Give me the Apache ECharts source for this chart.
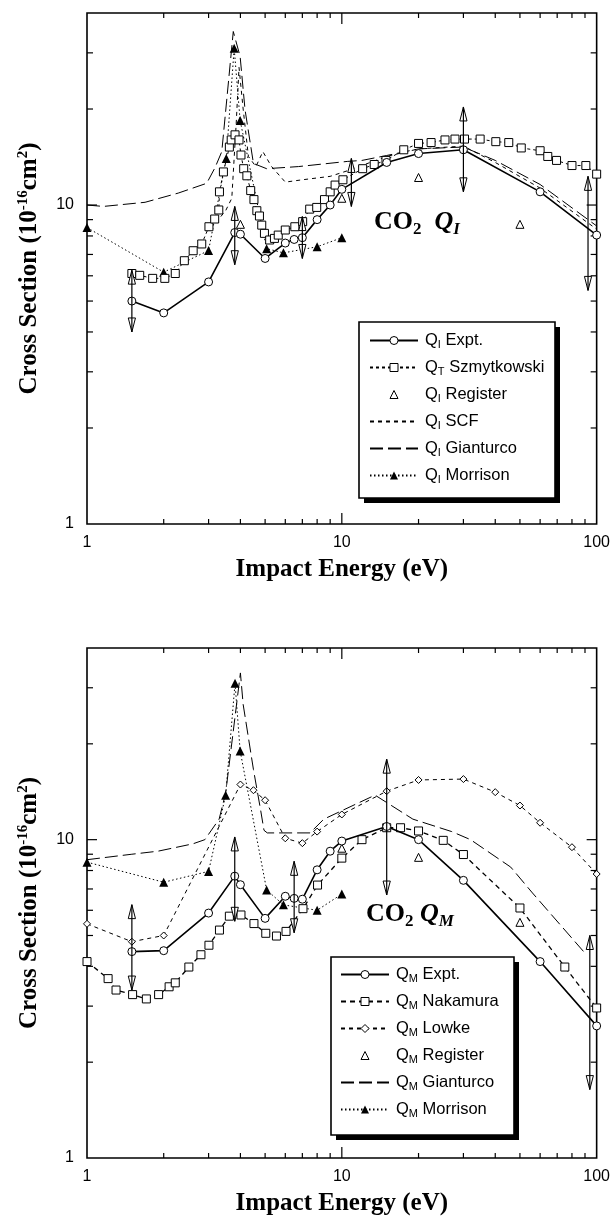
<!DOCTYPE html>
<html><head><meta charset="utf-8">
<script src="https://cdn.jsdelivr.net/npm/echarts@6/dist/echarts.min.js"></script>
<style>html,body{margin:0;padding:0;background:#fff}#c{width:613px;height:1217px}</style>
</head><body><div id="c"></div>
<script>
// ---------- data: top chart (Q_I) ----------
const qiExpt = [[1.5,5.0],[2,4.59],[3,5.74],[3.8,8.2],[4,8.1],[5,6.8],[6,7.6],[6.5,7.8],[7,7.9],[8,9.0],[9,10.0],[10,11.2],[15,13.6],[20,14.5],[30,14.9],[60,11.0],[100,8.05]];
const qtSzmytkowski = [[1.5,6.1],[1.61,6.02],[1.81,5.89],[2.02,5.89],[2.22,6.1],[2.41,6.69],[2.61,7.19],[2.82,7.55],[3.01,8.55],[3.17,9.04],[3.29,9.65],[3.31,11.0],[3.43,12.7],[3.62,15.2],[3.68,16.0],[3.81,16.6],[3.95,16.0],[4.02,14.35],[4.12,13.0],[4.24,12.35],[4.39,11.1],[4.52,10.4],[4.64,9.6],[4.75,9.24],[4.85,8.65],[4.97,8.15],[5.21,7.77],[5.44,7.86],[5.63,8.05],[6.0,8.35],[6.54,8.55],[7.02,8.87],[7.48,9.71],[7.97,9.83],[8.55,10.4],[9.0,11.0],[9.41,11.55],[10.1,12.0],[12.07,13.0],[13.4,13.4],[14.9,13.8],[17.5,14.9],[20,15.6],[22.4,15.7],[25.4,16.0],[27.8,16.1],[30.3,16.1],[34.9,16.1],[40.2,15.8],[45.2,15.7],[50.6,15.1],[60,14.8],[64.3,14.2],[69.6,13.8],[80,13.3],[90.7,13.3],[100,12.5]];
const qiRegister = [[4,8.7],[10,10.5],[20,12.2],[50,8.7]];
const qiSCF = [[3.2,8.8],[3.5,9.6],[3.7,10.5],[3.85,18],[3.95,27],[4.1,20],[4.3,14.2],[4.6,13.2],[4.9,14.7],[5.3,13.2],[6.0,11.8],[7.0,12.0],[9.0,12.3],[10.5,12.8],[15,14.2],[20,15.0],[30,15.3],[40,13.6],[60,11.3],[100,8.4]];
const qiGianturco = [[1,10],[1.16,9.9],[1.69,10.2],[2.28,10.9],[2.95,11.7],[3.18,13.1],[3.38,14.7],[3.75,35],[3.99,29.2],[4.17,19.9],[4.5,13.5],[5.07,13.0],[6.76,13.2],[10.5,13.7],[12,13.8],[15,14.3],[20,15.0],[30,15.2],[40,13.8],[60,11.6],[100,8.6]];
const qiMorrison = [[1,8.5],[2,6.16],[3,7.2],[3.52,14.0],[3.78,31],[3.99,18.4],[5.07,7.3],[5.9,7.08],[8,7.4],[10,7.9]];
const qiArrows = [[1.5,4.0,6.25],[3.8,6.5,9.9],[7.0,6.8,9.2],[10.9,9.9,14.0],[30,11.0,20.3],[92.5,5.4,12.3]];

// ---------- data: bottom chart (Q_M) ----------
const qmExpt = [[1.5,4.45],[2,4.48],[3,5.88],[3.8,7.68],[4,7.22],[5,5.66],[6,6.64],[6.5,6.54],[7,6.5],[8,8.04],[9,9.2],[10,9.9],[15,11.0],[20,10.0],[30,7.45],[60,4.14],[100,2.6]];
const qmNakamura = [[1,4.14],[1.21,3.66],[1.3,3.37],[1.51,3.26],[1.71,3.16],[1.91,3.26],[2.1,3.45],[2.22,3.55],[2.51,3.98],[2.8,4.35],[3.01,4.66],[3.31,5.2],[3.62,5.75],[4.02,5.8],[4.52,5.45],[5.03,5.08],[5.54,4.98],[6.04,5.15],[7.04,6.07],[8.03,7.2],[10,8.75],[12,10.0],[15,10.9],[17,10.9],[20,10.65],[25,9.95],[30,8.98],[50,6.1],[75,3.98],[100,2.96]];
const qmLowke = [[1,5.44],[1.5,4.78],[2,5.0],[4,14.9],[4.5,14.3],[5,13.3],[6,10.1],[7,9.75],[8,10.6],[10,12.0],[15,14.2],[20,15.4],[30,15.5],[40,14.1],[50,12.8],[60,11.3],[80,9.47],[100,7.8]];
const qmRegister = [[10,9.4],[20,8.8],[50,5.5]];
const qmGianturco = [[1,8.65],[1.5,9.0],[1.9,9.2],[2.6,9.7],[2.9,10.0],[3.3,11.6],[3.5,14.0],[4.0,33.4],[4.1,26.6],[4.5,16.6],[4.8,12.4],[4.95,10.7],[5.1,10.5],[7.5,10.5],[8.5,11.6],[13.5,13.8],[19,11.6],[27,10.6],[32,10.0],[46,8.2],[56,6.8],[90,4.4]];
const qmMorrison = [[1,8.5],[2,7.35],[3,7.95],[3.5,13.8],[3.81,31],[3.99,19],[5.07,6.95],[5.9,6.24],[8,6.0],[10,6.75]];
const qmArrows = [[1.5,3.37,6.25],[3.8,5.54,10.2],[6.5,5.1,8.55],[15,6.7,17.9],[94,1.64,5.0]];

// ---------- axis ticks ----------
const xMinorTicks = [2,3,4,5,6,7,8,9,20,30,40,50,60,70,80,90];
const xMajorTicks = [10];
const yMinorTicks = [2,3,4,5,6,7,8,9,20,30];
const yMajorTicks = [10];
const xLabels = [1,10,100];
const yLabels = [1,10];

const SERIF = '"Liberation Serif","Times New Roman",serif';
const SANS = '"Liberation Sans",Arial,Helvetica,sans-serif';

function isLabel(v, list){ return list.some(t => Math.abs(Math.log10(v) - Math.log10(t)) < 1e-6); }

function xTickRender(len){
  return function(params, api){
    const cs = params.coordSys; const px = api.coord([api.value(0), api.value(1)])[0];
    const st = {stroke:'#000', lineWidth:1.2};
    return {type:'group', children:[
      {type:'line', shape:{x1:px,y1:cs.y+cs.height,x2:px,y2:cs.y+cs.height-len}, style:st},
      {type:'line', shape:{x1:px,y1:cs.y,x2:px,y2:cs.y+len}, style:st}]};
  };
}
function yTickRender(len){
  return function(params, api){
    const cs = params.coordSys; const py = api.coord([api.value(0), api.value(1)])[1];
    const st = {stroke:'#000', lineWidth:1.2};
    return {type:'group', children:[
      {type:'line', shape:{x1:cs.x,y1:py,x2:cs.x+len,y2:py}, style:st},
      {type:'line', shape:{x1:cs.x+cs.width,y1:py,x2:cs.x+cs.width-len,y2:py}, style:st}]};
  };
}
function arrowRender(params, api){
  const x = api.value(0), lo = api.value(1), hi = api.value(2);
  const a = api.coord([x, lo]), b = api.coord([x, hi]);
  const w = 3.6, h = 14;
  const hs = {fill:'#fff', stroke:'#000', lineWidth:1};
  return {type:'group', children:[
    {type:'polygon', shape:{points:[[b[0],b[1]],[b[0]-w,b[1]+h],[b[0]+w,b[1]+h]]}, style:hs},
    {type:'polygon', shape:{points:[[a[0],a[1]],[a[0]-w,a[1]-h],[a[0]+w,a[1]-h]]}, style:hs},
    {type:'line', shape:{x1:a[0],y1:a[1],x2:b[0],y2:b[1]}, style:{stroke:'#000', lineWidth:1.2}}]};
}

function frameSeries(i){
  return [
    {type:'custom', xAxisIndex:i, yAxisIndex:i, silent:true, renderItem:xTickRender(5), data:xMinorTicks.map(v=>[v,1]), z:1},
    {type:'custom', xAxisIndex:i, yAxisIndex:i, silent:true, renderItem:xTickRender(11), data:xMajorTicks.map(v=>[v,1]), z:1},
    {type:'custom', xAxisIndex:i, yAxisIndex:i, silent:true, renderItem:yTickRender(6), data:yMinorTicks.map(v=>[1,v]), z:1},
    {type:'custom', xAxisIndex:i, yAxisIndex:i, silent:true, renderItem:yTickRender(10), data:yMajorTicks.map(v=>[1,v]), z:1}
  ];
}

const open = {color:'#fff', borderColor:'#000', borderWidth:1};
function line(name, i, data, o){
  return Object.assign({type:'line', name, xAxisIndex:i, yAxisIndex:i, data, showAllSymbol:true,
    symbol:'none', symbolSize:8, itemStyle:{color:'#000'}, lineStyle:{color:'#000', width:1}, z:3}, o);
}

const series = [
  ...frameSeries(0), ...frameSeries(1),
  line('QI Gianturco', 0, qiGianturco, {lineStyle:{color:'#000', width:1, type:[13,5]}}),
  line('QI SCF', 0, qiSCF, {lineStyle:{color:'#000', width:1, type:[4,4]}}),
  line('QI Morrison', 0, qiMorrison, {symbol:'triangle', symbolSize:9, itemStyle:{color:'#000'}, lineStyle:{color:'#000', width:1, type:[1.5,2.5]}}),
  line('QT Szmytkowski', 0, qtSzmytkowski, {symbol:'rect', symbolSize:8, itemStyle:open, lineStyle:{color:'#000', width:1, type:[3,3]}, z:4}),
  line('QI Register', 0, qiRegister, {symbol:'triangle', symbolSize:8, itemStyle:open, lineStyle:{width:0}}),
  line('QI Expt.', 0, qiExpt, {symbol:'circle', symbolSize:8, itemStyle:open, lineStyle:{color:'#000', width:1.6}, z:5}),
  {type:'custom', name:'arrowsI', xAxisIndex:0, yAxisIndex:0, silent:true, renderItem:arrowRender, encode:{x:0, y:[1,2]}, data:qiArrows, z:6},

  line('QM Gianturco', 1, qmGianturco, {lineStyle:{color:'#000', width:1, type:[13,5]}}),
  line('QM Morrison', 1, qmMorrison, {symbol:'triangle', symbolSize:9, itemStyle:{color:'#000'}, lineStyle:{color:'#000', width:1, type:[1.5,2.5]}}),
  line('QM Lowke', 1, qmLowke, {symbol:'diamond', symbolSize:7, itemStyle:open, lineStyle:{color:'#000', width:1, type:[4,4]}}),
  line('QM Nakamura', 1, qmNakamura, {symbol:'rect', symbolSize:8, itemStyle:open, lineStyle:{color:'#000', width:1.3, type:[5,4]}, z:4}),
  line('QM Register', 1, qmRegister, {symbol:'triangle', symbolSize:8, itemStyle:open, lineStyle:{width:0}}),
  line('QM Expt.', 1, qmExpt, {symbol:'circle', symbolSize:8, itemStyle:open, lineStyle:{color:'#000', width:1.6}, z:5}),
  {type:'custom', name:'arrowsM', xAxisIndex:1, yAxisIndex:1, silent:true, renderItem:arrowRender, encode:{x:0, y:[1,2]}, data:qmArrows, z:6}
];

function xAxis(i){
  return {type:'log', logBase:10, gridIndex:i, min:1, max:100,
    axisLine:{show:false}, axisTick:{show:false}, splitLine:{show:false}, minorTick:{show:false},
    axisLabel:{margin:11, fontFamily:SANS, fontSize:16, color:'#000', formatter:v=>isLabel(v,xLabels)?String(Math.round(v)):''},
    name:'Impact Energy (eV)', nameLocation:'middle', nameGap:33,
    nameTextStyle:{fontFamily:SERIF, fontWeight:'bold', fontSize:25, color:'#000'}};
}
function yAxis(i){
  return {type:'log', logBase:10, gridIndex:i, min:1, max:40,
    axisLine:{show:false}, axisTick:{show:false}, splitLine:{show:false}, minorTick:{show:false},
    axisLabel:{margin:13, fontFamily:SANS, fontSize:16, color:'#000', showMaxLabel:false, formatter:v=>isLabel(v,yLabels)?String(Math.round(v)):''},
    name:'{a|Cross Section (10}{sup|-16}{a|cm}{sup|2}{a|)}', nameLocation:'middle', nameGap:43,
    nameTextStyle:{fontFamily:SERIF, fontWeight:'bold', fontSize:25, color:'#000',
      rich:{a:{fontFamily:SERIF, fontWeight:'bold', fontSize:25, lineHeight:28, color:'#000'},
            sup:{fontFamily:SERIF, fontWeight:'bold', fontSize:15, lineHeight:15, padding:[0,0,13,0], color:'#000'}}}};
}

const legendRich = {
  q:{fontFamily:SANS, fontSize:16.5, lineHeight:20, padding:[0,0,0,2], color:'#000'},
  s:{fontFamily:SANS, fontSize:11, lineHeight:12, padding:[8,0,0,0], color:'#000'},
  t:{fontFamily:SANS, fontSize:16.5, lineHeight:20, color:'#000'}
};
function legendFmt(name){ return '{q|Q}{s|' + name.charAt(1) + '}{t|' + name.slice(2) + '}'; }
function legend(left, top, names){
  return {orient:'vertical', left, top, itemWidth:48, itemHeight:10, itemGap:8, padding:0, z:12,
    selectedMode:false, itemStyle:{borderWidth:1},
    formatter:legendFmt, textStyle:{fontFamily:SANS, fontSize:16.5, color:'#000', rich:legendRich},
    data:names};
}
// legend frame boxes (pixel layout), solid offset shadow
function legendBox(x, y, w, h){
  return [
    {type:'rect', z:10, shape:{x:x+5, y:y+5, width:w, height:h}, style:{fill:'#000'}},
    {type:'rect', z:11, shape:{x:x, y:y, width:w, height:h}, style:{fill:'#fff', stroke:'#000', lineWidth:1.6}}
  ];
}

const titleRich = {
  a:{fontFamily:SERIF, fontWeight:'bold', fontSize:26, lineHeight:30, color:'#000'},
  s:{fontFamily:SERIF, fontWeight:'bold', fontSize:17, lineHeight:14, padding:[16,0,0,0], color:'#000'},
  q:{fontFamily:SERIF, fontWeight:'bold', fontStyle:'italic', fontSize:26, lineHeight:30, color:'#000'},
  qs:{fontFamily:SERIF, fontWeight:'bold', fontStyle:'italic', fontSize:17, lineHeight:14, padding:[16,0,0,0], color:'#000'}
};

const option = {
  animation:false,
  backgroundColor:'#fff',
  title:[
    {text:'{a|CO}{s|2}{a|  }{q|Q}{qs|I}', left:374, top:207, padding:0, textStyle:{rich:titleRich}},
    {text:'{a|CO}{s|2}{a| }{q|Q}{qs|M}', left:366, top:899, padding:0, textStyle:{rich:titleRich}}
  ],
  graphic:[...legendBox(359, 322, 196, 176), ...legendBox(331, 957, 183, 178)],
  grid:[
    {left:87, top:13, width:510, height:511, show:true, borderColor:'#000', borderWidth:1.6, backgroundColor:'transparent'},
    {left:87, top:648, width:510, height:510, show:true, borderColor:'#000', borderWidth:1.6, backgroundColor:'transparent'}
  ],
  xAxis:[xAxis(0), xAxis(1)],
  yAxis:[yAxis(0), yAxis(1)],
  legend:[
    legend(369, 331, ['QI Expt.','QT Szmytkowski','QI Register',{name:'QI SCF', itemStyle:{opacity:0}},{name:'QI Gianturco', itemStyle:{opacity:0}},'QI Morrison']),
    legend(340, 965, ['QM Expt.','QM Nakamura','QM Lowke','QM Register',{name:'QM Gianturco', itemStyle:{opacity:0}},'QM Morrison'])
  ],
  series
};
const chart = echarts.init(document.getElementById('c'), null, {renderer:'canvas'});
chart.setOption(option);
</script></body></html>
